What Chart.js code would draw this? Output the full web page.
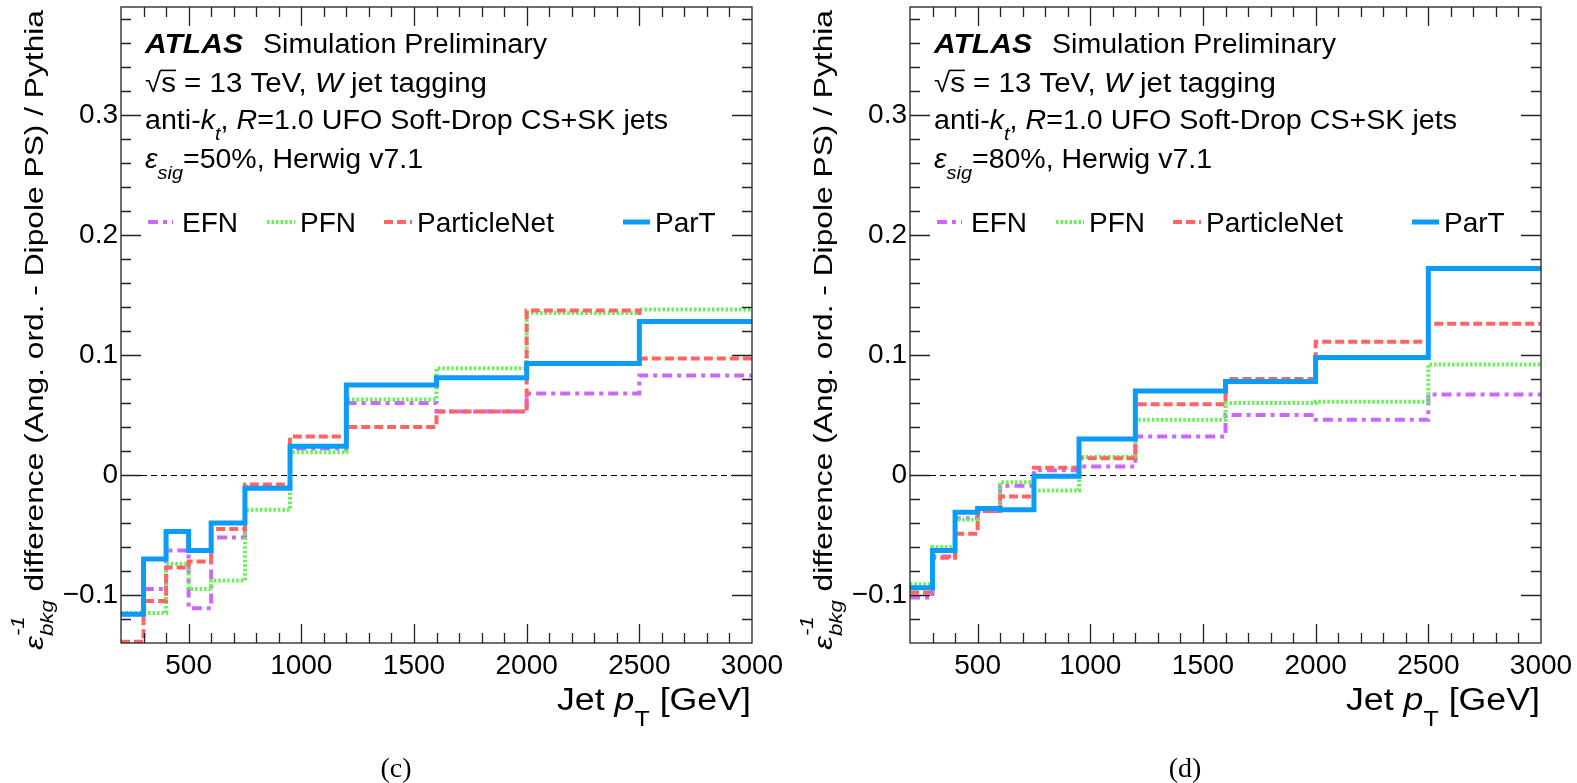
<!DOCTYPE html>
<html>
<head>
<meta charset="utf-8">
<script src="https://cdn.jsdelivr.net/npm/chart.js@4.4.1/dist/chart.umd.min.js"></script>
<style>
  html, body { margin: 0; padding: 0; background: #fff; overflow: hidden; }
  #wrap { position: relative; width: 1577px; height: 783px; }
  canvas { position: absolute; top: 0; }
  #left { left: 0; }
  #right { left: 789px; }
</style>
</head>
<body>
<div id="wrap">
  <canvas id="left" width="789" height="783"></canvas>
  <canvas id="right" width="789" height="783"></canvas>
</div>
<script>
// bin edges in jet pT (GeV), 11 bins
const ptEdges = [200, 300, 400, 500, 600, 750, 950, 1200, 1600, 2000, 2500, 3000];
const xTickValues = [500, 1000, 1500, 2000, 2500, 3000];
const yTickValues = [-0.1, 0, 0.1, 0.2, 0.3];
const seriesNames = ['EFN', 'PFN', 'ParticleNet', 'ParT'];

// (c) signal efficiency 50%
const efn50  = [-0.116, -0.095, -0.063, -0.111, -0.052, -0.010, 0.022, 0.060, 0.053, 0.068, 0.083];
const pfn50  = [-0.115, -0.115, -0.074, -0.095, -0.088, -0.029, 0.019, 0.063, 0.089, 0.135, 0.138];
const pnet50 = [-0.139, -0.105, -0.077, -0.072, -0.045, -0.008, 0.032, 0.040, 0.053, 0.137, 0.097];
const part50 = [-0.116, -0.070, -0.047, -0.063, -0.040, -0.011, 0.024, 0.075, 0.081, 0.093, 0.128];

// (d) signal efficiency 80%
const efn80  = [-0.102, -0.068, -0.036, -0.030, -0.009, 0.004, 0.007, 0.032, 0.050, 0.046, 0.067];
const pfn80  = [-0.091, -0.060, -0.037, -0.028, -0.006, -0.013, 0.015, 0.046, 0.060, 0.061, 0.092];
const pnet80 = [-0.098, -0.069, -0.049, -0.030, -0.018, 0.006, 0.014, 0.059, 0.080, 0.111, 0.126];
const part80 = [-0.094, -0.063, -0.031, -0.028, -0.029, -0.001, 0.030, 0.070, 0.078, 0.098, 0.172];

const seriesColors = ['#cc66ff', '#66f255', '#ff6464', '#0a9cf7'];
const lineStyles = [
  { dash: [10, 5, 4, 5], width: 4 },
  { dash: [2.5, 2], width: 4 },
  { dash: [9, 4], width: 4 },
  { dash: [], width: 5 }
];

const FONT = '"Liberation Sans", Arial, Helvetica, sans-serif';

// histogram -> points at left bin edges plus closing point
function toSteps(values) {
  const pts = values.map((v, i) => ({ x: ptEdges[i], y: v }));
  pts.push({ x: ptEdges[ptEdges.length - 1], y: values[values.length - 1] });
  return pts;
}

// small rich-text helper (italic, bold, sub/superscripts)
function layoutRich(ctx, segs, size) {
  let x = 0, stackW = 0;
  const items = [];
  segs.forEach(seg => {
    const sz = seg.s ? size * 0.7 : size;
    const font = (seg.i ? 'italic ' : '') + (seg.b ? 'bold ' : '') + sz + 'px ' + (seg.f || FONT);
    ctx.font = font;
    const w = ctx.measureText(seg.t).width;
    let dy = 0;
    if (seg.s === 'sub') dy = size * (seg.dy || 0.4);
    if (seg.s === 'sup') dy = -size * (seg.dy || 0.45);
    items.push({ seg, x, dy, font, w });
    if (seg.stack) stackW = w;
    else { x += Math.max(w, stackW); stackW = 0; }
  });
  return { items, width: x };
}

function drawRich(ctx, segs, x, y, size, o = {}) {
  const lay = layoutRich(ctx, segs, size);
  const sx = o.fit ? o.fit / lay.width : 1;
  const total = lay.width * sx;
  ctx.save();
  ctx.translate(x, y);
  if (o.rot) ctx.rotate(o.rot);
  if (o.align === 'right') ctx.translate(-total, 0);
  if (o.align === 'center') ctx.translate(-total / 2, 0);
  ctx.scale(sx, 1);
  ctx.fillStyle = '#000';
  ctx.strokeStyle = '#000';
  ctx.textAlign = 'left';
  ctx.textBaseline = 'alphabetic';
  lay.items.forEach(it => {
    ctx.font = it.font;
    ctx.fillText(it.seg.t, it.x, it.dy);
    if (it.seg.over) {
      ctx.lineWidth = size * 0.06;
      ctx.beginPath();
      ctx.moveTo(it.x - 1, -size * 0.8);
      ctx.lineTo(it.x + it.w, -size * 0.8);
      ctx.stroke();
    }
  });
  ctx.restore();
  return total;
}

const frameTicks = {
  id: 'frameTicks',
  beforeDatasetsDraw(chart) {
    const { ctx, chartArea: a, scales: { y } } = chart;
    const py = Math.round(y.getPixelForValue(0)) + 0.5;
    ctx.save();
    ctx.strokeStyle = '#000';
    ctx.lineWidth = 1;
    ctx.setLineDash([6, 4]);
    ctx.beginPath();
    ctx.moveTo(a.left, py);
    ctx.lineTo(a.right, py);
    ctx.stroke();
    ctx.restore();
  },
  afterDatasetsDraw(chart) {
    const { ctx, chartArea: a, scales: { x, y } } = chart;
    ctx.save();
    ctx.strokeStyle = '#222';
    ctx.lineWidth = 1.3;
    ctx.strokeRect(a.left, a.top, a.right - a.left, a.bottom - a.top);
    ctx.beginPath();
    for (let k = -6; k <= 19; k++) {
      const py = Math.round(y.getPixelForValue(k * 0.02)) + 0.5;
      const len = k % 5 === 0 ? 20 : 10;
      ctx.moveTo(a.left, py); ctx.lineTo(a.left + len, py);
      ctx.moveTo(a.right, py); ctx.lineTo(a.right - len, py);
    }
    for (let k = 3; k < 30; k++) {
      const px = Math.round(x.getPixelForValue(k * 100)) + 0.5;
      const len = k % 5 === 0 ? 19 : 10;
      ctx.moveTo(px, a.bottom); ctx.lineTo(px, a.bottom - len);
      ctx.moveTo(px, a.top); ctx.lineTo(px, a.top + len);
    }
    ctx.stroke();
    ctx.restore();
  }
};

const atlasText = {
  id: 'atlasText',
  afterDraw(chart, args, opts) {
    const ctx = chart.ctx;
    const S = 27;
    drawRich(ctx, [{ t: 'ATLAS', b: 1, i: 1 }], 145, 53, S, { fit: 98 });
    drawRich(ctx, [{ t: 'Simulation Preliminary' }], 263, 53, S, { fit: 284 });
    drawRich(ctx, [{ t: '\u221A' }, { t: 's', over: 1 }, { t: ' = 13 TeV, ' }, { t: 'W', i: 1 }, { t: ' jet tagging' }], 145, 92, S, { fit: 342 });
    drawRich(ctx, [{ t: 'anti-' }, { t: 'k', i: 1 }, { t: 't', i: 1, s: 'sub' }, { t: ', ' }, { t: 'R', i: 1 },
      { t: '=1.0 UFO Soft-Drop CS+SK jets' }], 145, 129, S, { fit: 523 });
    drawRich(ctx, [{ t: '\u03B5', i: 1 }, { t: 'sig', i: 1, s: 'sub' }, { t: '=' + opts.eff + '%, Herwig v7.1' }], 145, 168, S, { fit: 278 });

    // legend
    const symX = [[148, 173], [267, 295], [384, 412], [623, 650]];
    const txtX = [182, 300, 417, 655];
    chart.data.datasets.forEach((ds, i) => {
      ctx.save();
      ctx.strokeStyle = ds.borderColor;
      ctx.lineWidth = ds.borderWidth;
      ctx.setLineDash(ds.borderDash);
      ctx.beginPath();
      ctx.moveTo(symX[i][0], 222);
      ctx.lineTo(symX[i][1], 222);
      ctx.stroke();
      ctx.restore();
      drawRich(ctx, [{ t: ds.label }], txtX[i], 232, 28);
    });

    // axis titles
    drawRich(ctx, [{ t: '\u03B5', i: 1 }, { t: 'bkg', i: 1, s: 'sub', stack: 1 }, { t: '-1', i: 1, s: 'sup', dy: 0.75 },
      { t: ' difference (Ang. ord. - Dipole PS) / Pythia' }], 43, 650, 25, { fit: 640, rot: -Math.PI / 2 });
    drawRich(ctx, [{ t: 'Jet ' }, { t: 'p', i: 1 }, { t: 'T', s: 'sub', dy: 0.5 }, { t: ' [GeV]' }], 751, 710, 31, { fit: 194, align: 'right' });

    // panel caption
    drawRich(ctx, [{ t: opts.caption, f: '"Liberation Serif", "Times New Roman", serif' }], 396, 777, 28, { align: 'center' });
  }
};

function fmtY(v) {
  if (v === 0) return '0';
  return v < 0 ? '\u2212' + Math.abs(v).toFixed(1) : v.toFixed(1);
}

function makeChart(id, vals, eff, caption) {
  const datasets = vals.map((v, i) => ({
    label: seriesNames[i],
    data: toSteps(v),
    borderColor: seriesColors[i],
    borderWidth: lineStyles[i].width,
    borderDash: lineStyles[i].dash,
    borderCapStyle: 'butt',
    borderJoinStyle: 'miter',
    stepped: true,
    pointRadius: 0,
    fill: false,
    order: 3 - i
  }));
  return new Chart(document.getElementById(id).getContext('2d'), {
    type: 'line',
    data: { datasets },
    options: {
      responsive: false,
      animation: false,
      events: [],
      layout: { padding: { top: 7, right: 37, left: 0, bottom: 0 } },
      plugins: {
        legend: { display: false },
        tooltip: { enabled: false },
        atlasText: { eff, caption }
      },
      scales: {
        x: {
          type: 'linear', min: 200, max: 3000,
          afterFit: s => { s.height = 140; s.paddingLeft = 0; s.paddingRight = 0; },
          afterBuildTicks: s => { s.ticks = xTickValues.map(v => ({ value: v })); },
          grid: { display: false, drawTicks: false },
          border: { display: false },
          ticks: { font: { family: FONT, size: 28 }, color: '#000', padding: 6, maxRotation: 0, minRotation: 0, autoSkip: false, callback: v => String(v) }
        },
        y: {
          type: 'linear', min: -0.14, max: 0.39,
          afterFit: s => { s.width = 121; s.paddingTop = 0; s.paddingBottom = 0; },
          afterBuildTicks: s => { s.ticks = yTickValues.map(v => ({ value: v })); },
          grid: { display: false, drawTicks: false },
          border: { display: false },
          ticks: { font: { family: FONT, size: 28 }, color: '#000', padding: 3, autoSkip: false, callback: fmtY }
        }
      }
    },
    plugins: [frameTicks, atlasText]
  });
}

makeChart('left', [efn50, pfn50, pnet50, part50], 50, '(c)');
makeChart('right', [efn80, pfn80, pnet80, part80], 80, '(d)');
</script>
</body>
</html>
